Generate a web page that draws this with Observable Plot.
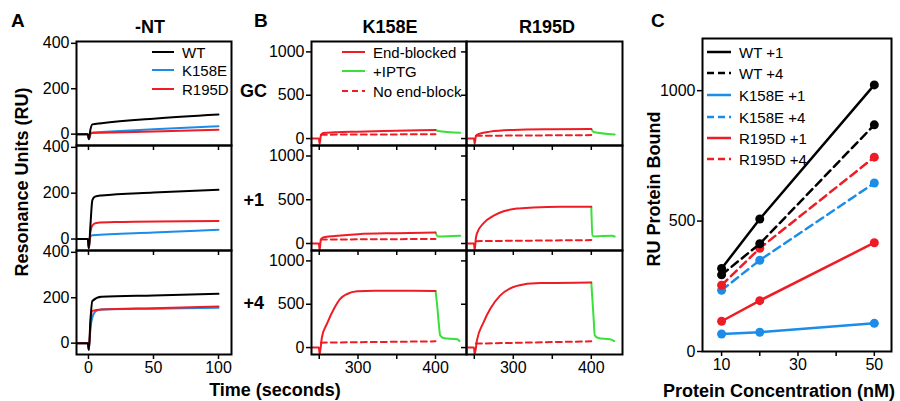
<!DOCTYPE html>
<html><head><meta charset="utf-8">
<script src="https://cdn.jsdelivr.net/npm/d3@7"></script>
<script src="https://cdn.jsdelivr.net/npm/@observablehq/plot@0.6"></script>
<style>
body{margin:0;background:#fff;}
#chart{position:relative;width:900px;height:401px;overflow:hidden;font-family:"Liberation Sans",Arial,Helvetica,sans-serif;background:#fff;}
#chart g[aria-label^="x-axis"] path,#chart g[aria-label^="x-axis"] line,#chart g[aria-label^="y-axis"] path,#chart g[aria-label^="y-axis"] line{stroke-width:1.5;}
</style></head><body><div id="chart"></div>
<script>
// ---------- Panel A (time, RU) ----------
const A_NT_WT    = [[-9,0],[-0.5,0],[0.3,-22],[1.5,20],[3,43],[10,48],[50,68],[100,86]];
const A_NT_K158E = [[-9,0],[-0.5,0],[0.3,-22],[2,6],[10,9],[50,22],[100,35]];
const A_NT_R195D = [[-9,0],[-0.5,0],[0.3,-22],[2,5],[10,6],[50,12],[100,19]];
const A_P1_WT    = [[-9,0],[-0.5,0],[0.3,-40],[1.5,60],[3,170],[5,185],[10,190],[50,203],[100,215]];
const A_P1_K158E = [[-9,0],[-0.5,0],[0.3,-40],[1.5,10],[3,16],[50,28],[100,40]];
const A_P1_R195D = [[-9,0],[-0.5,0],[0.3,-40],[1.5,30],[3,59],[6,70],[20,74],[100,79]];
const A_P4_WT    = [[-9,0],[-0.5,0],[0.3,-29],[1.5,100],[3,186],[10,204],[50,210],[100,217]];
const A_P4_K158E = [[-9,0],[-0.5,0],[0.3,-29],[1.5,60],[3,113],[6,142],[10,148],[50,152],[100,156]];
const A_P4_R195D = [[-9,0],[-0.5,0],[0.3,-29],[1.5,80],[3,142],[10,148],[50,154],[100,161]];
const A_series = ["WT","K158E","R195D"];
const A_rows = ["-NT","+1","+4"];
const A_xTicks = [0,50,100];
const A_yTicks = [0,200,400];

// ---------- Panel B (time, RU) ----------
const B_GC_K_blocked = [[240,0],[249.5,0],[250.5,-60],[252,30],[255,63],[270,72],[300,80],[350,90],[400,99]];
const B_GC_K_iptg    = [[400,99],[403,88],[432,66]];
const B_GC_K_noblock = [[252,45],[400,50]];
const B_GC_R_blocked = [[240,0],[249.5,0],[250.5,-60],[252,30],[255,52],[270,80],[300,100],[350,107],[400,110]];
const B_GC_R_iptg    = [[400,110],[403,75],[430,48]];
const B_GC_R_noblock = [[252,32],[400,40]];
const B_P1_K_blocked = [[240,0],[249.5,0],[250.5,-75],[252,40],[255,69],[270,85],[300,107],[350,118],[400,126]];
const B_P1_K_iptg    = [[400,126],[403,80],[432,88]];
const B_P1_K_noblock = [[252,45],[400,52]];
const B_P1_R_blocked = [[240,0],[249.5,0],[250.5,-75],[252,60],[253.4,116],[262,233],[274.8,318],[287.6,368],[304.7,399],[326,411],[360,419],[400,419]];
const B_P1_R_iptg    = [[400,419],[401.5,90],[404,80],[426,90],[430,80]];
const B_P1_R_noblock = [[252,27],[400,39]];
const B_P4_K_blocked = [[240,0],[249.5,0],[250.5,-75],[253.5,122],[260,275],[269,447],[277,561],[286,618],[299,649],[321,656],[400,653]];
const B_P4_K_iptg    = [[400,653],[402,500],[404,300],[406,141],[410,111],[428,95],[431,75]];
const B_P4_K_noblock = [[252,57],[400,72]];
const B_P4_R_blocked = [[240,0],[249.5,0],[250.5,-75],[253.4,84],[262,294],[270.5,447],[283,599],[296,683],[313,729],[335,744],[400,752]];
const B_P4_R_iptg    = [[400,752],[403,332],[404.5,141],[409,111],[424,95],[429.5,75]];
const B_P4_R_noblock = [[252,46],[400,72]];
const B_cols = ["K158E","R195D"];
const B_rows = ["GC","+1","+4"];
const B_legend = ["End-blocked","+IPTG","No end-block"];
const B_xTicks = [250,300,350,400];
const B_yTicks = [0,500,1000];

// ---------- Panel C ----------
const C_conc = [10,20,50];
const C_WT1 = [318,508,1022];
const C_WT4 = [294,413,869];
const C_K1  = [67,74,108];
const C_K4  = [235,350,646];
const C_R1  = [116,195,417];
const C_R4  = [254,396,745];
const C_legend = ["WT +1","WT +4","K158E +1","K158E +4","R195D +1","R195D +4"];
const C_xTicks = [10,20,30,40,50];
const C_yTicks = [0,500,1000];

// ---------- styling ----------
const FONT = '"Liberation Sans", Arial, Helvetica, sans-serif';
const BLACK = "#000000", BLUE = "#1b8de8", RED = "#ee1c24", GREEN = "#38e038";
const chart = document.getElementById("chart");

function cell({left, top, w, h, xDomain, yDomain, xTicks, yTicks, xFmt, yFmt, marks}) {
  const ml = 60, mr = 12, mt = 12, mb = 34;
  const svg = Plot.plot({
    width: w + ml + mr, height: h + mt + mb,
    marginLeft: ml, marginRight: mr, marginTop: mt, marginBottom: mb,
    style: {position: "absolute", left: (left - ml) + "px", top: (top - mt) + "px",
            background: "transparent", overflow: "visible", fontSize: "16px",
            fontFamily: FONT, color: "#000", maxWidth: "none"},
    x: {domain: xDomain, ticks: xTicks, tickFormat: xFmt, tickSize: 5, tickPadding: 2, label: null},
    y: {domain: yDomain, ticks: yTicks, tickFormat: yFmt, tickSize: 5, tickPadding: 2, label: null},
    marks: [...marks, Plot.frame({stroke: "#000", strokeWidth: 2})]
  });
  chart.appendChild(svg);
}
const none = () => "";
const ident = d => String(d);

// Panel A
const A_data = [
  [A_NT_WT, A_NT_K158E, A_NT_R195D],
  [A_P1_WT, A_P1_K158E, A_P1_R195D],
  [A_P4_WT, A_P4_K158E, A_P4_R195D]
];
const rowTop = [41, 145, 250], rowH = [104, 105, 104];
A_data.forEach((d, i) => {
  cell({left: 76, top: rowTop[i], w: 155, h: rowH[i],
    xDomain: [-9.2, 110], yDomain: [-50, 408],
    xTicks: A_xTicks, yTicks: A_yTicks,
    xFmt: i === 2 ? ident : none, yFmt: ident,
    marks: [
      Plot.line(d[1], {stroke: BLUE, strokeWidth: 2, curve: "monotone-x"}),
      Plot.line(d[2], {stroke: RED, strokeWidth: 2, curve: "monotone-x"}),
      Plot.line(d[0], {stroke: BLACK, strokeWidth: 2, curve: "monotone-x"})
    ]});
});

// Panel B
const B_data = [
  [[B_GC_K_blocked, B_GC_K_iptg, B_GC_K_noblock], [B_GC_R_blocked, B_GC_R_iptg, B_GC_R_noblock]],
  [[B_P1_K_blocked, B_P1_K_iptg, B_P1_K_noblock], [B_P1_R_blocked, B_P1_R_iptg, B_P1_R_noblock]],
  [[B_P4_K_blocked, B_P4_K_iptg, B_P4_K_noblock], [B_P4_R_blocked, B_P4_R_iptg, B_P4_R_noblock]]
];
const colLeft = [311, 466], colW = [155, 156];
B_data.forEach((row, i) => row.forEach((d, j) => {
  cell({left: colLeft[j], top: rowTop[i], w: colW[j], h: rowH[i],
    xDomain: [240, 440], yDomain: [-80, 1120],
    xTicks: B_xTicks, yTicks: B_yTicks,
    xFmt: i === 2 ? (v => v % 100 === 0 ? String(v) : "") : none,
    yFmt: j === 0 ? ident : none,
    marks: [
      Plot.line(d[2], {stroke: RED, strokeWidth: 2, strokeDasharray: "6,4", curve: "monotone-x"}),
      Plot.line(d[1], {stroke: GREEN, strokeWidth: 2, curve: "monotone-x"}),
      Plot.line(d[0], {stroke: RED, strokeWidth: 2, curve: "monotone-x"})
    ]});
}));

// Panel C
const C_series = [
  {v: C_K1, c: BLUE, dash: null},
  {v: C_R1, c: RED, dash: null},
  {v: C_K4, c: BLUE, dash: "8,5"},
  {v: C_R4, c: RED, dash: "8,5"},
  {v: C_WT4, c: BLACK, dash: "8,5"},
  {v: C_WT1, c: BLACK, dash: null}
];
const C_marks = [];
C_series.forEach(s => {
  const pts = C_conc.map((c, k) => [c, s.v[k]]);
  C_marks.push(Plot.line(pts, {stroke: s.c, strokeWidth: 2.5, strokeDasharray: s.dash || undefined}));
  C_marks.push(Plot.dot(pts, {fill: s.c, r: 4.5}));
});
cell({left: 702, top: 38, w: 189, h: 313,
  xDomain: [5, 54.5], yDomain: [0, 1200],
  xTicks: C_xTicks, yTicks: C_yTicks,
  xFmt: v => (v === 20 || v === 40) ? "" : String(v), yFmt: ident,
  marks: C_marks});

// ---------- Overlay text & legends ----------
const ov = d3.select("#chart").append("svg")
  .attr("width", 900).attr("height", 401)
  .style("position", "absolute").style("left", "0px").style("top", "0px")
  .style("font-family", FONT).style("overflow", "visible");
function txt(x, y, s, {size = 18, weight = "bold", anchor = "start", rotate = 0} = {}) {
  ov.append("text").attr("transform", `translate(${x},${y}) rotate(${rotate})`)
    .attr("text-anchor", anchor).attr("font-size", size).attr("font-weight", weight)
    .attr("fill", "#000").text(s);
}
function legendItem(x1, x2, y, color, dash, label, width = 2) {
  ov.append("line").attr("x1", x1).attr("x2", x2).attr("y1", y).attr("y2", y)
    .attr("stroke", color).attr("stroke-width", width)
    .attr("stroke-dasharray", dash || null);
  txt(x2 + 8, y + 5.5, label, {size: 15, weight: "normal"});
}
// panel letters
txt(11, 27, "A", {size: 19});
txt(254, 27, "B", {size: 19});
txt(651, 27, "C", {size: 19});
// titles
txt(150, 33, A_rows[0], {anchor: "middle"});
txt(390, 33, B_cols[0], {anchor: "middle"});
txt(547, 33, B_cols[1], {anchor: "middle"});
// B row labels
txt(267, 97, B_rows[0], {anchor: "end"});
txt(264, 206, B_rows[1], {anchor: "end"});
txt(264, 309, B_rows[2], {anchor: "end"});
// axis titles
txt(28, 182, "Resonance Units (RU)", {anchor: "middle", rotate: -90});
txt(275, 396, "Time (seconds)", {anchor: "middle"});
txt(660, 189, "RU Protein Bound", {anchor: "middle", rotate: -90});
txt(663, 397, "Protein Concentration (nM)", {anchor: "start"});
// legend A
legendItem(152, 174, 52, BLACK, null, A_series[0]);
legendItem(152, 174, 70, BLUE, null, A_series[1]);
legendItem(152, 174, 89, RED, null, A_series[2]);
// legend B
legendItem(342, 365, 52, RED, null, B_legend[0]);
legendItem(342, 365, 71, GREEN, null, B_legend[1]);
legendItem(342, 365, 91, RED, "6,4", B_legend[2]);
// legend C
const C_legStyle = [[BLACK, null], [BLACK, "7,4"], [BLUE, null], [BLUE, "7,4"], [RED, null], [RED, "7,4"]];
const C_legY = [52, 73, 95, 117, 138, 159];
C_legend.forEach((l, k) => legendItem(707, 731, C_legY[k], C_legStyle[k][0], C_legStyle[k][1], l, 2.5));
</script></body></html>
